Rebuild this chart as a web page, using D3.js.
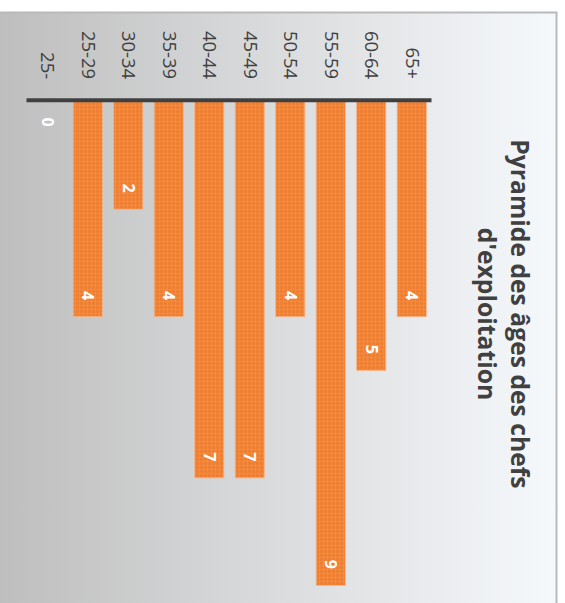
<!DOCTYPE html>
<html>
<head>
<meta charset="utf-8">
<script src="https://cdn.jsdelivr.net/npm/d3@7"></script>
<style>
  html, body { margin: 0; padding: 0; background: #ffffff; }
  svg { display: block; }
</style>
</head>
<body>
<svg id="chart" width="565" height="603"></svg>
<script>
// Age brackets of farm heads, from oldest (top of the pyramid) to youngest
const ageGroups = ["65+", "60-64", "55-59", "50-54", "45-49", "40-44", "35-39", "30-34", "25-29", "25-"];
const headCounts = [4, 5, 9, 4, 7, 7, 4, 2, 4, 0];
const titleLines = ["Pyramide des âges des chefs", "d'exploitation"];

const W = 565, H = 603;
const svg = d3.select("#chart");
const defs = svg.append("defs");

// Panel background: soft grey-to-white sweep
const bg = defs.append("linearGradient")
  .attr("id", "panelFill")
  .attr("x1", "0%").attr("y1", "0%").attr("x2", "100%").attr("y2", "0%");
bg.append("stop").attr("offset", "0%").attr("stop-color", "#bebebe");
bg.append("stop").attr("offset", "100%").attr("stop-color", "#f6f9fc");

// Fine speckled texture used for the bars
const pat = defs.append("pattern")
  .attr("id", "barTexture")
  .attr("patternUnits", "userSpaceOnUse")
  .attr("width", 4).attr("height", 4);
pat.append("rect").attr("width", 4).attr("height", 4).attr("fill", "#ee8034");
pat.append("rect").attr("x", 0).attr("y", 1).attr("width", 4).attr("height", 1)
  .attr("fill", "#f39b5c").attr("opacity", 0.35);
pat.append("rect").attr("x", 1).attr("y", 0).attr("width", 1).attr("height", 4)
  .attr("fill", "#f39b5c").attr("opacity", 0.35);
pat.append("rect").attr("x", 3).attr("y", 3).attr("width", 1).attr("height", 1)
  .attr("fill", "#e67a30").attr("opacity", 0.6);

svg.append("rect")
  .attr("x", -2).attr("y", 12.5)
  .attr("width", 558.5).attr("height", H)
  .attr("fill", "url(#panelFill)")
  .attr("stroke", "#b9b9b9")
  .attr("stroke-width", 2);

// The chart is laid out as a horizontal bar chart and turned a quarter turn clockwise
const g = svg.append("g")
  .attr("transform", `translate(${W},0) rotate(90)`);

const y = d3.scaleBand()
  .domain(ageGroups)
  .range([133, 538])
  .paddingInner(0.28)
  .paddingOuter(0.14);

const x = d3.scaleLinear()
  .domain([0, 9])
  .range([101.7, 585.4]);

const textColor = "#404040";

// Bars
g.append("g").selectAll("rect")
  .data(ageGroups)
  .join("rect")
  .attr("x", x(0))
  .attr("y", d => y(d))
  .attr("width", (d, i) => x(headCounts[i]) - x(0))
  .attr("height", y.bandwidth())
  .attr("fill", "url(#barTexture)")
  .attr("stroke", "#f7b589")
  .attr("stroke-width", 0.8);

// Category axis
const axis = g.append("g")
  .attr("transform", `translate(${x(0) - 2},0)`)
  .call(d3.axisLeft(y).tickSize(0).tickSizeOuter(0).tickPadding(20.5));
axis.select(".domain")
  .attr("stroke", "#404040")
  .attr("stroke-width", 4);
axis.selectAll("text")
  .attr("fill", textColor)
  .style("font-family", "'Open Sans', sans-serif")
  .style("font-size", "18.5px");

// Value labels, set just inside the end of each bar
g.append("g").selectAll("text")
  .data(ageGroups)
  .join("text")
  .attr("x", (d, i) => Math.max(x(headCounts[i]) - 16.5, x(0) + 25))
  .attr("y", d => y(d) + y.bandwidth() / 2)
  .attr("dy", "0.36em")
  .attr("text-anchor", "end")
  .attr("fill", "#ffffff")
  .style("font-family", "'Open Sans', sans-serif")
  .style("font-weight", "700")
  .style("font-size", "16px")
  .text((d, i) => headCounts[i]);

// Title
g.append("g").selectAll("text")
  .data(titleLines)
  .join("text")
  .attr("x", 314)
  .attr("y", (d, i) => 54 + i * 33)
  .attr("text-anchor", "middle")
  .attr("fill", textColor)
  .style("font-family", "'Open Sans', sans-serif")
  .style("font-weight", "700")
  .style("font-size", "24.7px")
  .text(d => d);
</script>
</body>
</html>
